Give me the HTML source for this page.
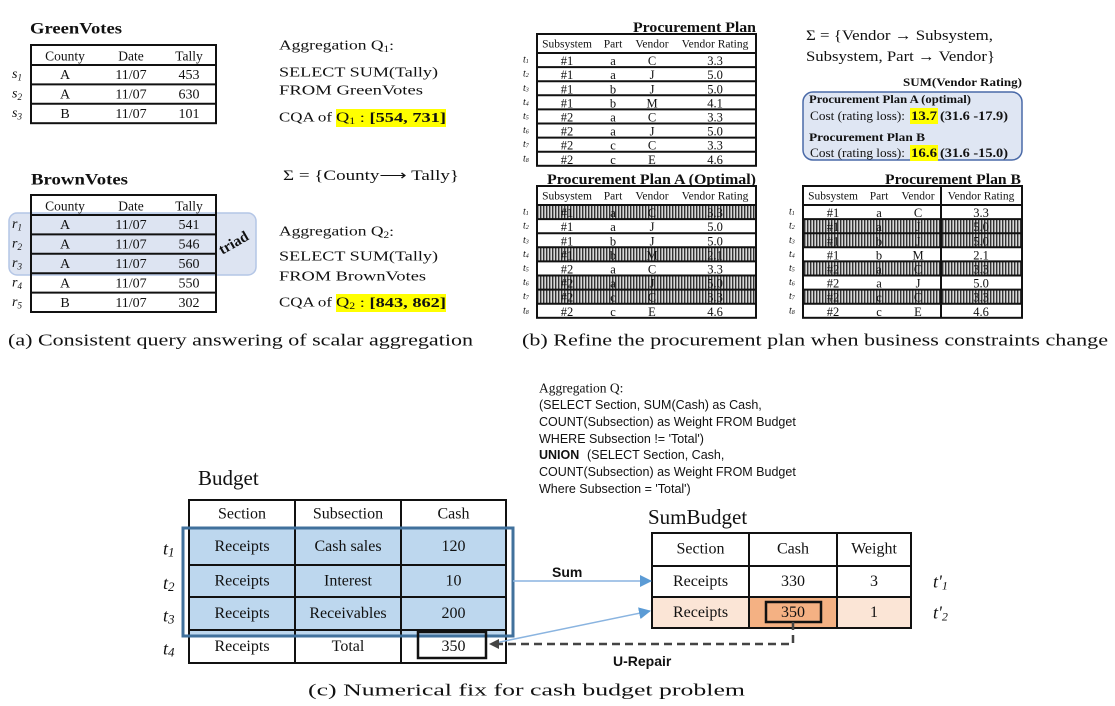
<!DOCTYPE html>
<html><head><meta charset="utf-8"><style>
body{margin:0;background:#fff;width:1115px;height:706px;overflow:hidden}
svg{display:block}
text{font-family:"Liberation Serif",serif;fill:#111}
.sans{font-family:"Liberation Sans",sans-serif}
</style></head><body>
<svg id="fig" width="1115" height="706" viewBox="0 0 1115 706" xmlns="http://www.w3.org/2000/svg">
<defs>
<pattern id="hatch" width="3" height="4" patternUnits="userSpaceOnUse">
<rect width="3" height="4" fill="#d8d8d8"/><rect width="1.4" height="4" fill="#333"/>
</pattern>
<marker id="arrBlue" markerWidth="12" markerHeight="12" refX="11" refY="6" orient="auto" markerUnits="userSpaceOnUse"><path d="M0,0 L12,6 L0,12 z" fill="#5b9bd5"/></marker>
<marker id="arrDark" markerWidth="10" markerHeight="10" refX="9" refY="5" orient="auto" markerUnits="userSpaceOnUse"><path d="M0,0 L10,5 L0,10 z" fill="#444"/></marker>
</defs>
<rect x="9" y="213" width="247" height="62" rx="8" fill="#dde4f2" stroke="#b4c6e6" stroke-width="1.5"/>
<text x="236" y="247" font-size="15" font-weight="bold" transform="rotate(-30 236 247)" text-anchor="middle">triad</text>
<rect x="336" y="109" width="110" height="18" fill="#ffff00"/>
<rect x="336" y="294" width="110" height="18" fill="#ffff00"/>
<rect x="803" y="92" width="219" height="68" rx="10" fill="#dfe6f3" stroke="#4a6aa8" stroke-width="1.5"/>
<rect x="910" y="108" width="28" height="16" fill="#ffff00"/>
<rect x="910" y="145" width="28" height="16" fill="#ffff00"/>
</svg>
<script>
const greenRows=[["A","11/07","453"],["A","11/07","630"],["B","11/07","101"]];
const brownRows=[["A","11/07","541"],["A","11/07","546"],["A","11/07","560"],["A","11/07","550"],["B","11/07","302"]];
const procRows=[["#1","a","C","3.3"],["#1","a","J","5.0"],["#1","b","J","5.0"],["#1","b","M","4.1"],["#2","a","C","3.3"],["#2","a","J","5.0"],["#2","c","C","3.3"],["#2","c","E","4.6"]];
const planRows=[["#1","a","C","3.3"],["#1","a","J","5.0"],["#1","b","J","5.0"],["#1","b","M","2.1"],["#2","a","C","3.3"],["#2","a","J","5.0"],["#2","c","C","3.3"],["#2","c","E","4.6"]];
const planAHatched=[0,3,5,6];
const planBHatched=[1,2,4,6];
const budgetRows=[["Receipts","Cash sales","120"],["Receipts","Interest","10"],["Receipts","Receivables","200"],["Receipts","Total","350"]];
const sumRows=[["Receipts","330","3"],["Receipts","350","1"]];

const svg=document.getElementById('fig');
const NS='http://www.w3.org/2000/svg';
function mk(tag,attrs,name){
  const el=document.createElementNS(NS,tag);
  for(const k in attrs) el.setAttribute(k,attrs[k]);
  
  
  svg.appendChild(el);return el;
}
function T(x,y,s,size,name,extra){
  const a=Object.assign({x:x,y:y,'font-size':size,'dominant-baseline':'central'},extra||{});
  const el=mk('text',a,name);el.textContent=s;return el;
}
function TH(x,y,html,size,name,extra){
  const a=Object.assign({x:x,y:y,'font-size':size,'dominant-baseline':'central'},extra||{});
  const el=mk('text',a,name);el.innerHTML=html;return el;
}
function L(len){return {textLength:len,lengthAdjust:'spacingAndGlyphs'};}
function line(x1,y1,x2,y2,w,c,name,extra){
  return mk('line',Object.assign({x1:x1,y1:y1,x2:x2,y2:y2,stroke:c||'#111','stroke-width':w},extra||{}),name);
}

/* Panel (a) */
T(30,29,"GreenVotes",16,'greenvotes-title',Object.assign({'font-weight':'bold'},L(92)));
function votesTable(x,y0,hdrH,rowH,rows,lbl,prefix){
  const w=185, cx=[65,131,189];
  const H=hdrH+rowH*rows.length;
  mk('rect',{x:x,y:y0,width:w,height:H,fill:'none',stroke:'#111','stroke-width':2},prefix+'-table-border');
  ["County","Date","Tally"].forEach((h,i)=>T(cx[i],y0+hdrH/2+1,h,13.5,prefix+'-header',{'text-anchor':'middle'}));
  rows.forEach((r,i)=>{
    const yy=y0+hdrH+rowH*i;
    line(x,yy,x+w,yy,2,'#111',prefix+'-row-line');
    r.forEach((v,j)=>T(cx[j],yy+rowH/2+1,v,14,prefix+'-cell',{'text-anchor':'middle'}));
    TH(12,yy+rowH/2,lbl+'<tspan font-size="9" dy="3">'+(i+1)+'</tspan>',14,prefix+'-row-label',{'font-style':'italic'});
  });
}
votesTable(31,45,20,19.4,greenRows,'s','greenvotes');
T(31,180,"BrownVotes",16,'brownvotes-title',Object.assign({'font-weight':'bold'},L(97)));
votesTable(31,195,20,19.4,brownRows,'r','brownvotes');

TH(279,46,'Aggregation Q<tspan font-size="9" dy="3">1</tspan><tspan dy="-3">:</tspan>',14,'aggregation-q1-label',L(115));
T(279,73,"SELECT SUM(Tally)",14,'q1-select',L(159));
T(279,91,"FROM GreenVotes",14,'q1-from',L(144));
T(279,118,"CQA of",14,'cqa-q1-prefix',L(53));
TH(336,118,'Q<tspan font-size="9" dy="3">1</tspan><tspan dy="-3"> : </tspan><tspan font-weight="bold">[554, 731]</tspan>',14,'cqa-q1',L(110));
T(283,176,"Σ  = {County⟶ Tally}",15,'sigma-a',L(176));
TH(279,232,'Aggregation Q<tspan font-size="9" dy="3">2</tspan><tspan dy="-3">:</tspan>',14,'aggregation-q2-label',L(115));
T(279,257,"SELECT SUM(Tally)",14,'q2-select',L(159));
T(279,277,"FROM BrownVotes",14,'q2-from',L(147));
T(279,303,"CQA of",14,'cqa-q2-prefix',L(53));
TH(336,303,'Q<tspan font-size="9" dy="3">2</tspan><tspan dy="-3"> : </tspan><tspan font-weight="bold">[843, 862]</tspan>',14,'cqa-q2',L(110));
T(8,340,"(a) Consistent query answering of scalar aggregation",17,'caption-a',L(465));

/* Panel (b) */
function procTable(x,y0,rows,hatched,prefix,divider){
  const w=219,hdrH=19,rowH=14.1;
  const cx=[x+30,x+76,x+115,x+178];
  const H=hdrH+rowH*rows.length;
  rows.forEach((r,i)=>{
    const yy=y0+hdrH+rowH*i;
    if(hatched.indexOf(i)>=0) mk('rect',{x:x,y:yy,width:w,height:rowH,fill:'url(#hatch)'},prefix+'-hatched-row');
  });
  mk('rect',{x:x,y:y0,width:w,height:H,fill:'none',stroke:'#111','stroke-width':2},prefix+'-table-border');
  ["Subsystem","Part","Vendor","Vendor  Rating"].forEach((h,i)=>T(cx[i],y0+hdrH/2+1,h,11.5,prefix+'-header',{'text-anchor':'middle'}));
  if(divider) line(x+138,y0,x+138,y0+H,2,'#111',prefix+'-divider');
  rows.forEach((r,i)=>{
    const yy=y0+hdrH+rowH*i;
    line(x,yy,x+w,yy,2,'#111',prefix+'-row-line');
    r.forEach((v,j)=>T(cx[j],yy+rowH/2+1,v,12.5,prefix+'-cell',{'text-anchor':'middle'}));
    TH(x-14,yy+rowH/2,'t<tspan font-size="6" dy="2">'+(i+1)+'</tspan>',10,prefix+'-row-label',{'font-style':'italic'});
  });
}
T(633,28,"Procurement Plan",15,'procurement-plan-title',Object.assign({'font-weight':'bold'},L(123)));
procTable(537,34,procRows,[],'procurement',false);
T(547,180,"Procurement Plan A (Optimal)",15,'plan-a-title',Object.assign({'font-weight':'bold'},L(209)));
procTable(537,186,planRows,planAHatched,'plan-a',false);
T(885,180,"Procurement Plan B",15,'plan-b-title',Object.assign({'font-weight':'bold'},L(136)));
procTable(803,186,planRows,planBHatched,'plan-b',true);

T(806,36,"Σ = {Vendor → Subsystem,",15,'sigma-b-line1',L(187));
T(806,57,"Subsystem, Part → Vendor}",15,'sigma-b-line2',L(189));
T(903,82,"SUM(Vendor Rating)",12,'sum-vendor-rating',Object.assign({'font-weight':'bold'},L(119)));
T(809,99,"Procurement Plan A (optimal)",12,'plan-a-cost-title',Object.assign({'font-weight':'bold'},L(162)));
T(810,116,"Cost (rating loss):",12.5,'plan-a-cost-label',L(95));
T(911,116,"13.7",12.5,'plan-a-cost-value',Object.assign({'font-weight':'bold'},L(26)));
T(940,116,"(31.6 -17.9)",12.5,'plan-a-cost-range',Object.assign({'font-weight':'bold'},L(68)));
T(809,137,"Procurement Plan B",12,'plan-b-cost-title',Object.assign({'font-weight':'bold'},L(116)));
T(810,153,"Cost (rating loss):",12.5,'plan-b-cost-label',L(95));
T(911,153,"16.6",12.5,'plan-b-cost-value',Object.assign({'font-weight':'bold'},L(26)));
T(940,153,"(31.6 -15.0)",12.5,'plan-b-cost-range',Object.assign({'font-weight':'bold'},L(68)));
T(522,340,"(b) Refine the procurement plan when business constraints change",17,'caption-b',L(586));

/* Panel (c) */
const qLines=["Aggregation Q:","(SELECT Section, SUM(Cash) as Cash,","COUNT(Subsection) as Weight  FROM Budget","WHERE Subsection != 'Total')","UNION","COUNT(Subsection) as Weight FROM Budget","Where Subsection = 'Total')"];
const qY=[388,405,422,439,455,472,489];
qLines.forEach((s,i)=>{
  const el=T(539,qY[i],s,i==0?13.5:12.5,'aggregation-q-line',{'class':i==0?'':'sans'});
  if(i==4){el.setAttribute('font-weight','bold');}
});
T(587,455,"(SELECT Section, Cash,",12.5,'aggregation-q-union-select',{'class':'sans'});

T(198,478,"Budget",21,'budget-title');
mk('rect',{x:189,y:528,width:317,height:108,fill:'#bdd7ee'},'budget-sum-highlight-fill');
const bx=[189,295,401,506], by=[500,528,565,597,630,663];
mk('rect',{x:189,y:500,width:317,height:163,fill:'none',stroke:'#111','stroke-width':2},'budget-table-border');
bx.slice(1,3).forEach(x=>line(x,500,x,663,2,'#111','budget-col-line'));
by.slice(1,5).forEach(y=>line(189,y,506,y,2,'#111','budget-row-line'));
["Section","Subsection","Cash"].forEach((h,i)=>T((bx[i]+bx[i+1])/2,514,h,16,'budget-header',{'text-anchor':'middle'}));
budgetRows.forEach((r,i)=>{
  const cy=(by[i+1]+by[i+2])/2;
  r.forEach((v,j)=>T((bx[j]+bx[j+1])/2,cy,v,16,'budget-cell',{'text-anchor':'middle','fill':i<3?'#3a4a5a':'#111'}));
  TH(163,cy+2,'t<tspan font-size="13" dy="3">'+(i+1)+'</tspan>',18,'budget-row-label',{'font-style':'italic'});
});
mk('rect',{x:183,y:528,width:330,height:108,fill:'none',stroke:'#41719c','stroke-width':3},'budget-sum-highlight-border');
mk('rect',{x:418,y:632,width:68,height:26,fill:'none',stroke:'#111','stroke-width':2.5},'budget-total-box');

T(648,517,"SumBudget",21,'sumbudget-title');
const sx=[652,749,837,911], sy=[533,566,597,628];
mk('rect',{x:652,y:597,width:259,height:31,fill:'#fbe5d6'},'sumbudget-repair-row-fill');
mk('rect',{x:749,y:597,width:88,height:31,fill:'#f4b183'},'sumbudget-repair-cell-fill');
mk('rect',{x:652,y:533,width:259,height:95,fill:'none',stroke:'#111','stroke-width':2},'sumbudget-table-border');
[749,837].forEach(x=>line(x,533,x,628,2,'#111','sumbudget-col-line'));
[566,597].forEach(y=>line(652,y,911,y,2,'#111','sumbudget-row-line'));
["Section","Cash","Weight"].forEach((h,i)=>T((sx[i]+sx[i+1])/2,549,h,16,'sumbudget-header',{'text-anchor':'middle'}));
sumRows.forEach((r,i)=>{
  const cy=(sy[i+1]+sy[i+2])/2;
  r.forEach((v,j)=>T((sx[j]+sx[j+1])/2,cy,v,16,'sumbudget-cell',{'text-anchor':'middle'}));
  TH(933,cy,'t\'<tspan font-size="12" dy="4">'+(i+1)+'</tspan>',18,'sumbudget-row-label',{'font-style':'italic'});
});
mk('rect',{x:766,y:602,width:55,height:20,fill:'none',stroke:'#111','stroke-width':2.5},'sumbudget-350-box');

line(513,581,651,581,1.5,'#8ab4e0','sum-arrow',{'marker-end':'url(#arrBlue)'});
T(552,572,"Sum",14,'sum-label',{'class':'sans','font-weight':'bold','fill':'#2e75b6'});
line(495,643,650,611,1.5,'#8ab4e0','sum-arrow-2',{'marker-end':'url(#arrBlue)'});
mk('path',{d:'M793,622 L793,644 L490,644',fill:'none',stroke:'#444','stroke-width':2.5,'stroke-dasharray':'8,5','marker-end':'url(#arrDark)'},'u-repair-arrow');
T(613,661,"U-Repair",14,'u-repair-label',{'class':'sans','font-weight':'bold'});
T(308,690,"(c) Numerical fix for cash budget problem",17,'caption-c',L(437));
</script>
</body></html>
